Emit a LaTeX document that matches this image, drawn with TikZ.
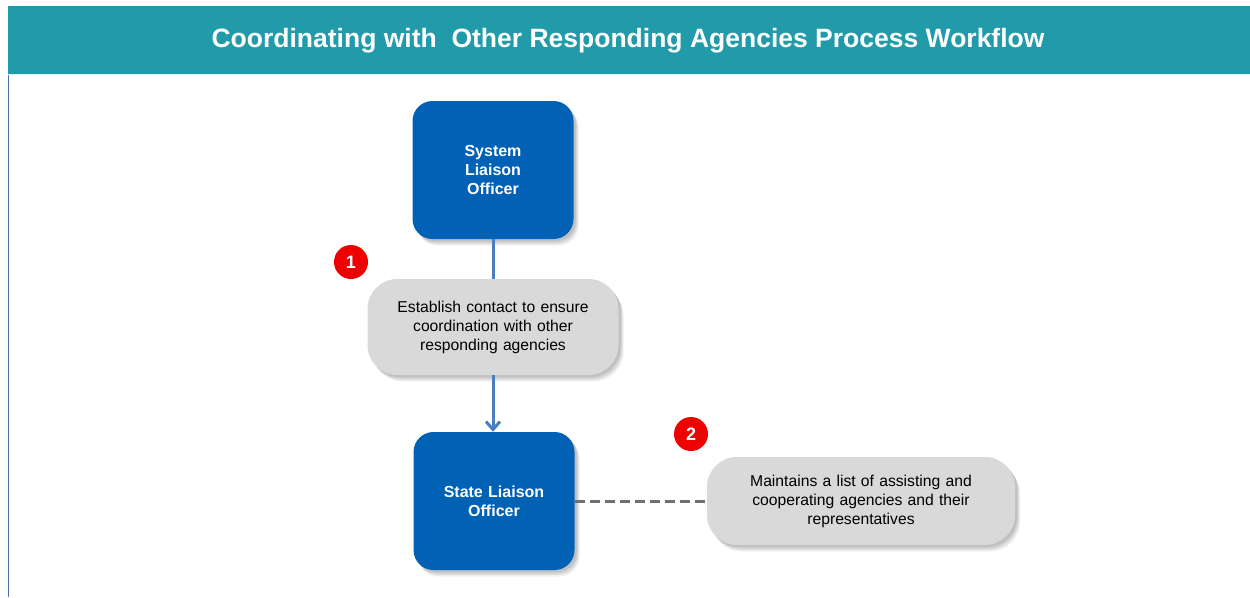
\documentclass[tikz,border=0pt]{standalone}
\usepackage{fontspec}
\setmainfont{Liberation Sans}
\usetikzlibrary{arrows.meta}
\definecolor{headteal}{HTML}{219AAA}
\definecolor{boxblue}{HTML}{0061B5}
\definecolor{boxgray}{HTML}{D9D9D9}
\definecolor{linkblue}{HTML}{4A7EC1}
\definecolor{dashgray}{HTML}{707070}
\definecolor{badgered}{HTML}{F00000}
\definecolor{frameblue}{HTML}{4A6FB0}
\tikzset{
  softshadow/.style={
    preaction={fill=black, opacity=0.07, transform canvas={shift={(2pt,-2pt)}}},
    preaction={fill=black, opacity=0.07, transform canvas={shift={(3pt,-3.5pt)}}},
    preaction={fill=black, opacity=0.07, transform canvas={shift={(4pt,-5pt)}}},
    preaction={fill=black, opacity=0.06, transform canvas={shift={(5pt,-6.5pt)}}}},
  rolebox/.style={draw=none, fill=boxblue, rounded corners=20pt, minimum width=161pt, minimum height=138pt,
    text=white, font=\fontsize{16}{19}\selectfont\bfseries, align=center, text width=120pt, softshadow},
  taskbox/.style={draw=none, fill=boxgray, rounded corners=30pt,
    text=black, font=\fontsize{15.7}{19}\selectfont, align=center, softshadow},
  badge/.style={circle, fill=badgered, minimum size=34pt, inner sep=0pt, text=white, font=\fontsize{18}{18}\selectfont\bfseries},
  flow/.style={draw=linkblue, line width=3pt},
  dashlink/.style={draw=dashgray, line width=3pt, dash pattern=on 10pt off 5pt},
}
\begin{document}
\begin{tikzpicture}[x=1pt,y=-1pt]
\useasboundingbox (0,0) rectangle (1250,597);
\fill[white] (0,0) rectangle (1250,597);
\draw[frameblue, line width=1pt] (8,6) -- (8,597);
\fill[headteal] (8,6) rectangle (1250,74);
\draw[cyan!15, line width=1pt] (8,74.5) -- (1250,74.5);
\node[text=white, font=\fontsize{26.5}{30}\selectfont\bfseries] (title) at (628,41) {Coordinating with\ \ Other Responding Agencies Process Workflow};

\node[rolebox] (sys) at (493,170) {System\\Liaison\\Officer};
\node[taskbox, minimum width=251pt, minimum height=96pt, text width=240pt] (t1) at (493,327) {Establish contact to ensure\\coordination with other\\responding agencies};
\node[rolebox] (state) at (494,501) {State Liaison\\Officer};
\node[taskbox, minimum width=308pt, minimum height=88pt, text width=290pt] (t2) at (861,501) {Maintains a list of assisting and\\cooperating agencies and their\\representatives};

\node[badge] (b1) at (351,262) {1};
\node[badge] (b2) at (691,434) {2};

\draw[flow] (sys.south) -- (t1.north);
\draw[flow, -{Straight Barb[length=8pt,width=14pt]}] (t1.south) -- (t1.south |- state.north);
\draw[dashlink] (state.east) -- (t2.west);
\end{tikzpicture}
\end{document}
